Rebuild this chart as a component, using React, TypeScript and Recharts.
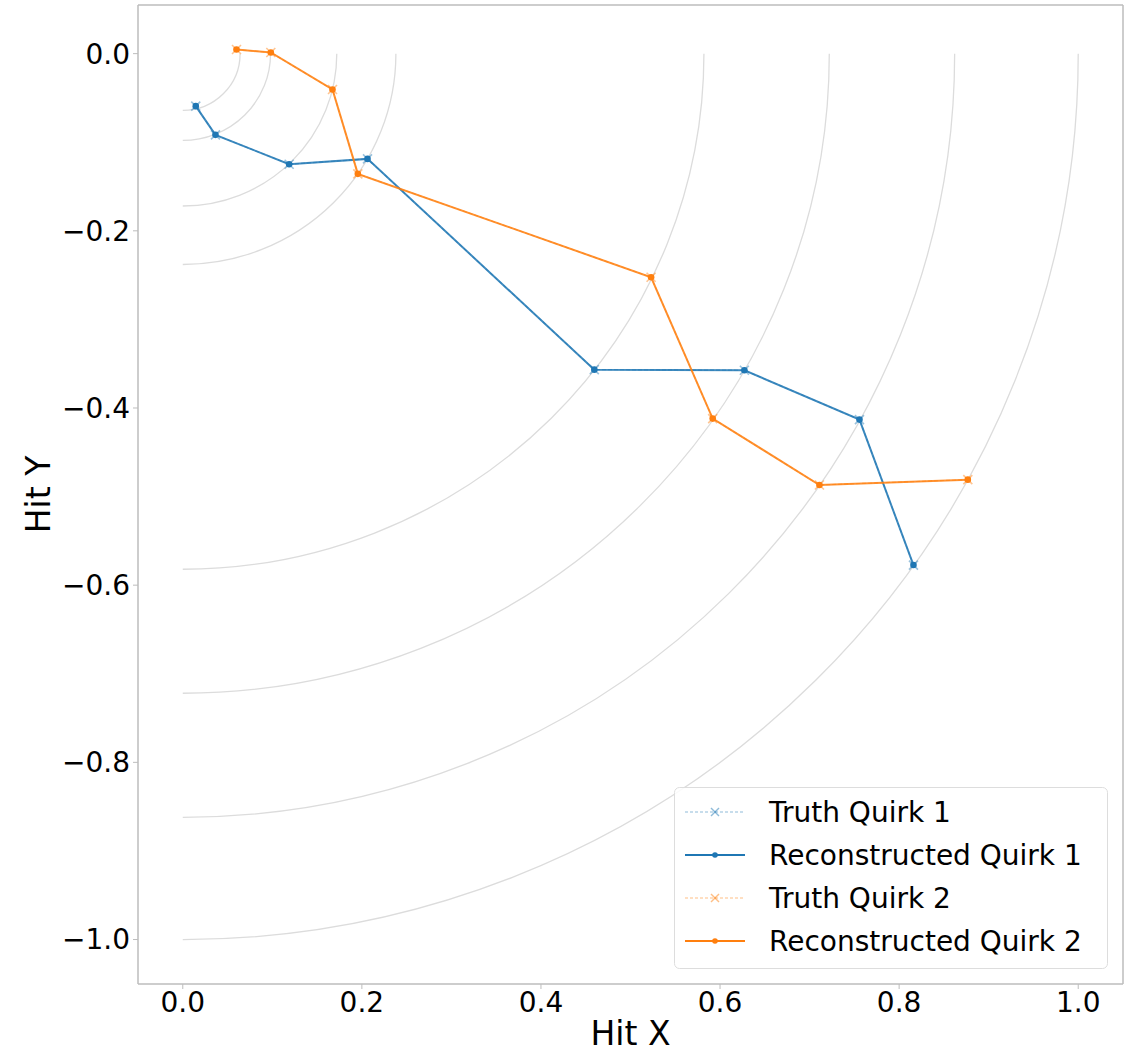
import React from 'react';
import { ScatterChart, Scatter, XAxis, YAxis, ReferenceLine, Legend } from 'recharts';

const FONT = '"DejaVu Sans", "Liberation Sans", sans-serif';
const BLUE = '#1f77b4';
const ORANGE = '#ff7f0e';
const SPINE = '#bdbdbd';
const ARC = '#dcdcdc';

// Axis setup
const xDomain = [-0.05, 1.05];
const yDomain = [-1.0502, 0.0549];
const xTicks = [0, 0.2, 0.4, 0.6, 0.8, 1.0];
const yTicks = [-1.0, -0.8, -0.6, -0.4, -0.2, 0.0];

// Detector layer radii (normalised)
const layerRadii = [0.064, 0.098, 0.172, 0.238, 0.582, 0.722, 0.862, 1.0];

// Quirk 1 hits
const truthQuirk1X = [0.0145, 0.0365, 0.1188, 0.2063, 0.4596, 0.6272, 0.7557, 0.816];
const truthQuirk1Y = [-0.0593, -0.0917, -0.1248, -0.1188, -0.3567, -0.3574, -0.4131, -0.5773];
const recoQuirk1X = [0.0145, 0.0365, 0.1188, 0.2063, 0.4596, 0.6272, 0.7557, 0.816];
const recoQuirk1Y = [-0.0593, -0.0917, -0.1248, -0.1188, -0.3567, -0.3574, -0.4131, -0.5773];

// Quirk 2 hits
const truthQuirk2X = [0.06, 0.0983, 0.1672, 0.1955, 0.523, 0.5918, 0.711, 0.8767];
const truthQuirk2Y = [0.0047, 0.0013, -0.0405, -0.1357, -0.2524, -0.412, -0.4869, -0.4809];
const recoQuirk2X = [0.06, 0.0983, 0.1672, 0.1955, 0.523, 0.5918, 0.711, 0.8767];
const recoQuirk2Y = [0.0047, 0.0013, -0.0405, -0.1357, -0.2524, -0.412, -0.4869, -0.4809];

const toPoints = (xs: number[], ys: number[]) => xs.map((x, i) => ({ x, y: ys[i] }));

const arcData = layerRadii.map((r) => [
  { x: 0, y: -r },
  { x: r, y: 0 },
]);

const fmt = (v: number) => (v < -1e-9 ? '\u2212' : '') + Math.abs(v).toFixed(1);

const arcLine = (props: any) => {
  const pts = props && props.points;
  if (!pts || pts.length < 2) return <g />;
  const sx = pts[0].x ?? pts[0].cx;
  const sy = pts[0].y ?? pts[0].cy;
  const ex = pts[1].x ?? pts[1].cx;
  const ey = pts[1].y ?? pts[1].cy;
  const rx = ex - sx;
  const ry = sy - ey;
  return (
    <path
      d={`M${sx},${sy} A${rx},${ry} 0 0 0 ${ex},${ey}`}
      fill="none"
      stroke={ARC}
      strokeWidth={1.3}
    />
  );
};

const noShape = () => <g />;

const xMarker = (color: string) => (props: any) => {
  const { cx, cy } = props;
  const d = 4.5;
  return (
    <g stroke={color} strokeWidth={1.6} strokeOpacity={0.45}>
      <line x1={cx - d} y1={cy - d} x2={cx + d} y2={cy + d} />
      <line x1={cx - d} y1={cy + d} x2={cx + d} y2={cy - d} />
    </g>
  );
};

const dotMarker = (color: string) => (props: any) => {
  const { cx, cy } = props;
  return <circle cx={cx} cy={cy} r={3.3} fill={color} />;
};

const legendItems = [
  { label: 'Truth Quirk 1', color: BLUE, truth: true },
  { label: 'Reconstructed Quirk 1', color: BLUE, truth: false },
  { label: 'Truth Quirk 2', color: ORANGE, truth: true },
  { label: 'Reconstructed Quirk 2', color: ORANGE, truth: false },
];

const LegendBox = () => (
  <svg width={434} height={182} style={{ display: 'block' }}>
    <rect x={0.5} y={0.5} width={433} height={181} rx={5} fill="#ffffff" fillOpacity={0.85} stroke="#dddddd" strokeWidth={1} />
    {legendItems.map((it, i) => {
      const cy = 25 + i * 43;
      return (
        <g key={it.label}>
          {it.truth ? (
            <g>
              <line x1={11} y1={cy} x2={71} y2={cy} stroke={it.color} strokeOpacity={0.5} strokeWidth={1.2} strokeDasharray="3 2" />
              <g stroke={it.color} strokeOpacity={0.5} strokeWidth={1.5}>
                <line x1={37} y1={cy - 4} x2={45} y2={cy + 4} />
                <line x1={37} y1={cy + 4} x2={45} y2={cy - 4} />
              </g>
            </g>
          ) : (
            <g>
              <line x1={11} y1={cy} x2={71} y2={cy} stroke={it.color} strokeWidth={1.8} />
              <circle cx={41} cy={cy} r={2.8} fill={it.color} />
            </g>
          )}
          <text x={95} y={cy + 10} fontSize={28} fontFamily={FONT} fill="#000">
            {it.label}
          </text>
        </g>
      );
    })}
  </svg>
);

const XLabel = (props: any) => {
  const vb = props.viewBox || { x: 138, y: 984, width: 985, height: 68 };
  return (
    <text x={vb.x + vb.width / 2} y={1045} textAnchor="middle" fontSize={33} fontFamily={FONT} fill="#000">
      Hit X
    </text>
  );
};

const YLabel = (props: any) => {
  const vb = props.viewBox || { x: 0, y: 5, width: 138, height: 979 };
  const cy = vb.y + vb.height / 2;
  return (
    <text transform={`translate(50,${cy}) rotate(-90)`} textAnchor="middle" fontSize={33} fontFamily={FONT} fill="#000">
      Hit Y
    </text>
  );
};

export default function App() {
  const tickStyle = { fontSize: 28, fill: '#000', fontFamily: FONT };
  return (
    <div style={{ position: 'absolute', left: 0, top: 0, width: 1140, height: 1052, background: '#fff' }}>
      <ScatterChart width={1140} height={1052} margin={{ top: 5, right: 17, left: 0, bottom: 0 }}>
        <XAxis
          type="number"
          dataKey="x"
          domain={xDomain}
          ticks={xTicks}
          allowDataOverflow
          tickFormatter={fmt}
          tick={tickStyle}
          tickSize={5}
          tickMargin={3}
          height={68}
          stroke={SPINE}
          axisLine={{ stroke: SPINE, strokeWidth: 1.5 }}
          tickLine={{ stroke: SPINE }}
          label={<XLabel />}
        />
        <YAxis
          type="number"
          dataKey="y"
          domain={yDomain}
          ticks={yTicks}
          allowDataOverflow
          tickFormatter={fmt}
          tick={tickStyle}
          tickSize={5}
          tickMargin={3}
          width={138}
          stroke={SPINE}
          axisLine={{ stroke: SPINE, strokeWidth: 1.5 }}
          tickLine={{ stroke: SPINE }}
          label={<YLabel />}
        />
        <ReferenceLine y={yDomain[1]} stroke={SPINE} strokeWidth={1.5} ifOverflow="visible" />
        <ReferenceLine x={xDomain[1]} stroke={SPINE} strokeWidth={1.5} ifOverflow="visible" />
        {arcData.map((d, i) => (
          <Scatter
            key={'arc' + i}
            data={d}
            line={arcLine}
            shape={noShape}
            isAnimationActive={false}
            legendType="none"
          />
        ))}
        <Scatter
          name="Truth Quirk 1"
          data={toPoints(truthQuirk1X, truthQuirk1Y)}
          line={{ stroke: BLUE, strokeWidth: 1.2, strokeDasharray: '4 2', strokeOpacity: 0.5 }}
          lineType="joint"
          shape={xMarker(BLUE)}
          fill={BLUE}
          isAnimationActive={false}
        />
        <Scatter
          name="Reconstructed Quirk 1"
          data={toPoints(recoQuirk1X, recoQuirk1Y)}
          line={{ stroke: BLUE, strokeWidth: 2, strokeOpacity: 0.85 }}
          lineType="joint"
          shape={dotMarker(BLUE)}
          fill={BLUE}
          isAnimationActive={false}
        />
        <Scatter
          name="Truth Quirk 2"
          data={toPoints(truthQuirk2X, truthQuirk2Y)}
          line={{ stroke: ORANGE, strokeWidth: 1.2, strokeDasharray: '4 2', strokeOpacity: 0.5 }}
          lineType="joint"
          shape={xMarker(ORANGE)}
          fill={ORANGE}
          isAnimationActive={false}
        />
        <Scatter
          name="Reconstructed Quirk 2"
          data={toPoints(recoQuirk2X, recoQuirk2Y)}
          line={{ stroke: ORANGE, strokeWidth: 2, strokeOpacity: 0.85 }}
          lineType="joint"
          shape={dotMarker(ORANGE)}
          fill={ORANGE}
          isAnimationActive={false}
        />
        <Legend
          layout="vertical"
          align="center"
          verticalAlign="middle"
          content={<LegendBox />}
          wrapperStyle={{ left: 674, top: 787, width: 434, height: 182 }}
        />
      </ScatterChart>
    </div>
  );
}
